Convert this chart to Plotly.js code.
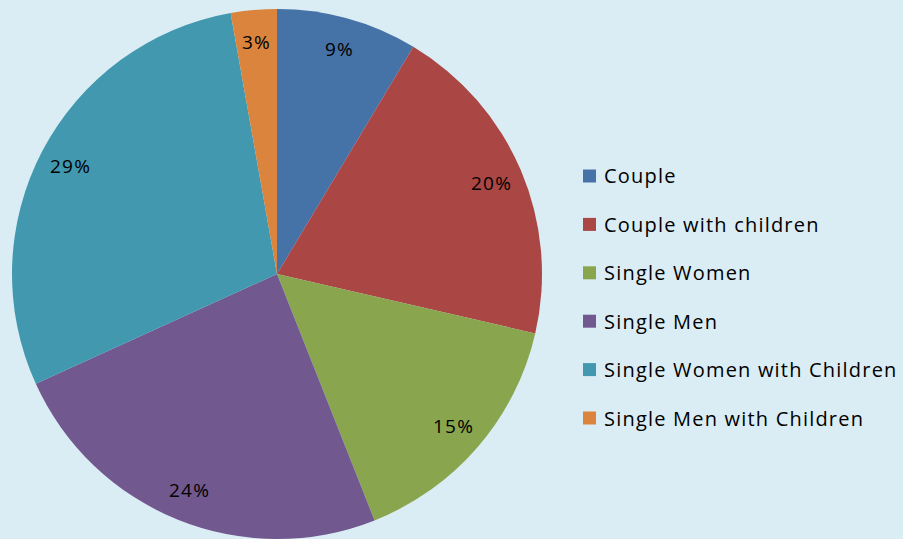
<!DOCTYPE html>
<html>
<head>
<meta charset="utf-8">
<script src="https://cdn.plot.ly/plotly-3.0.1.min.js"></script>
<style>
html,body{margin:0;padding:0;overflow:hidden;background:#dbedf4;}
.annotation-text{letter-spacing:1.2px;}
</style>
</head>
<body>
<div id="chart" style="width:903px;height:539px;"></div>
<script>
var categories = ["Couple", "Couple with children", "Single Women", "Single Men", "Single Women with Children", "Single Men with Children"];
var shares = [8.6, 20.0, 15.4, 24.2, 29.0, 2.8];
var colors = ["#4572A7", "#AA4643", "#89A54E", "#71588F", "#4198AF", "#DB843D"];

var W = 903, H = 539;
var cx = 277, cy = 274, R = 265;
var FONT = "'Open Sans', Lato, sans-serif";

var trace = {
  type: "pie",
  labels: categories,
  values: shares,
  sort: false,
  direction: "clockwise",
  rotation: 0,
  marker: {colors: colors, line: {width: 0}},
  textinfo: "none",
  hoverinfo: "skip",
  showlegend: false,
  domain: {x: [(cx - R) / W, (cx + R) / W], y: [(H - cy - R) / H, (H - cy + R) / H]}
};

var annotations = [];
var shapes = [];
var total = shares.reduce(function (a, b) { return a + b; }, 0);
var cum = 0;
shares.forEach(function (v, i) {
  var mid = (cum + v / 2) / total * 2 * Math.PI;
  cum += v;
  var r = 0.88 * R;
  var px = cx + r * Math.sin(mid);
  var py = cy - r * Math.cos(mid);
  annotations.push({
    xref: "paper", yref: "paper", x: px / W, y: 1 - py / H,
    xanchor: "center", yanchor: "middle", showarrow: false,
    text: Math.round(v / total * 100) + "%",
    font: {family: FONT, size: 19, color: "#000000"}
  });
});

// legend
var legX = 583, legY0 = 176, legStep = 48.4, sw = 13;
categories.forEach(function (c, i) {
  var yc = legY0 + i * legStep;
  shapes.push({
    type: "rect", xref: "paper", yref: "paper",
    x0: legX / W, x1: (legX + sw) / W,
    y0: 1 - (yc + sw / 2) / H, y1: 1 - (yc - sw / 2) / H,
    fillcolor: colors[i], line: {width: 0}
  });
  annotations.push({
    xref: "paper", yref: "paper", x: (legX + 19) / W, y: 1 - yc / H,
    xanchor: "left", yanchor: "middle", showarrow: false,
    text: c, font: {family: FONT, size: 20, color: "#000000"}
  });
});

var layout = {
  width: W, height: H,
  margin: {l: 0, r: 0, t: 0, b: 0},
  paper_bgcolor: "#dbedf4",
  plot_bgcolor: "#dbedf4",
  showlegend: false,
  annotations: annotations,
  shapes: shapes
};

Plotly.newPlot("chart", [trace], layout, {displayModeBar: false, staticPlot: true});
</script>
</body>
</html>
